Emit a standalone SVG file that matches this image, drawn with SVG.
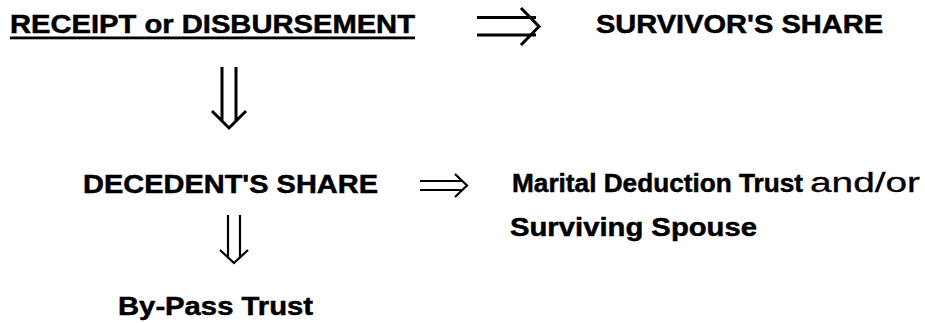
<svg xmlns="http://www.w3.org/2000/svg" width="925" height="323" viewBox="0 0 925 323">
<style>
text{font-family:"Liberation Sans",Arial,sans-serif;font-size:26px;fill:#000}
.b{font-weight:bold;stroke:#000;stroke-width:0.5}
.r{font-size:27px;stroke:#000;stroke-width:0.3}
.arr{fill:none;stroke:#000;stroke-linecap:butt;stroke-linejoin:miter}
</style>
<rect width="925" height="323" fill="#fff"/>
<g id="receipt">
<text class="b" x="10" y="33" textLength="405" lengthAdjust="spacingAndGlyphs">RECEIPT or DISBURSEMENT</text>
<rect x="10" y="36.5" width="405" height="2.8" fill="#000"/>
</g>
<g id="survivor">
<text class="b" x="596" y="33" textLength="287" lengthAdjust="spacingAndGlyphs">SURVIVOR'S SHARE</text>
</g>
<g id="decedent">
<text class="b" x="83" y="193" textLength="295" lengthAdjust="spacingAndGlyphs">DECEDENT'S SHARE</text>
</g>
<g id="marital">
<text class="b" x="512" y="192" textLength="291" lengthAdjust="spacingAndGlyphs">Marital Deduction Trust</text>
<text class="r" x="810" y="192" textLength="110" lengthAdjust="spacingAndGlyphs">and/or</text>
<text class="b" x="510" y="236" textLength="247" lengthAdjust="spacingAndGlyphs">Surviving Spouse</text>
</g>
<g id="bypass">
<text class="b" x="118" y="315" textLength="195" lengthAdjust="spacingAndGlyphs">By-Pass Trust</text>
</g>
<g id="connectors">
<g class="arr" stroke-width="3">
<path d="M477 17.5H536M477 35H536M521 8L539 26.5L521 45"/>
<path d="M222 67V122M236 67V122M212 111L229 128L246 111"/>
</g>
<g class="arr" stroke-width="2.2">
<path d="M420 181H463M420 190H463M455 174L467 185.5L455 197"/>
<path d="M228 215V258M240 215V258M220 250L234 263L248 250"/>
</g>
</g>
</svg>
